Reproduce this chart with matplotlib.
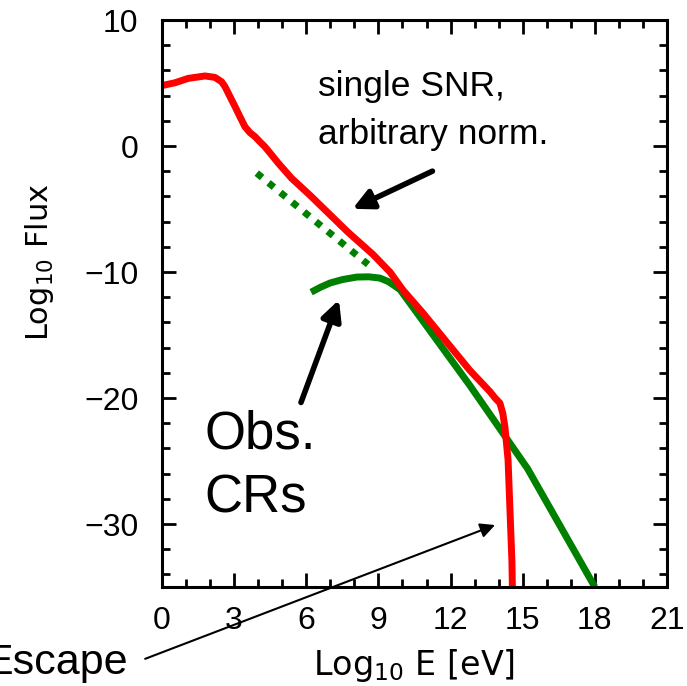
import matplotlib
matplotlib.use("Agg")
import matplotlib.pyplot as plt

# spectrum of a single SNR (red), log10 E vs log10 flux
snr_logE = [0.0, 0.54, 1.09, 1.79, 2.2, 2.48, 2.62, 2.83, 3.04, 3.24, 3.45, 3.66,
            3.87, 4.07, 4.28, 4.56, 4.84, 5.39, 6.15, 7.73, 8.77, 9.48, 10.02,
            10.85, 12.8, 13.64, 13.85, 14.05, 14.17, 14.26, 14.39, 14.47, 14.55,
            14.57]
snr_logF = [4.8, 5.02, 5.37, 5.56, 5.45, 5.1, 4.71, 3.91, 3.12, 2.33, 1.53, 1.06,
            0.74, 0.34, -0.06, -0.71, -1.37, -2.56, -3.9, -6.83, -8.6, -10.0,
            -11.43, -13.25, -17.8, -19.5, -20.0, -20.4, -21.2, -22.3, -24.9,
            -28.9, -32.9, -35.0]

# observed cosmic rays (green solid)
cr_logE = [6.2, 6.6, 6.99, 7.5, 8.1, 8.6, 9.06, 9.4, 9.6, 9.9, 12.8, 15.2, 18.0]
cr_logF = [-11.6, -11.2, -10.87, -10.6, -10.4, -10.38, -10.48, -10.75, -11.0,
           -11.4, -19.0, -25.6, -35.0]

# extrapolation (green dotted)
ext_logE = [3.94, 8.57]
ext_logF = [-2.15, -9.4]

xticks = [0, 3, 6, 9, 12, 15, 18, 21]
yticks = [10, 0, -10, -20, -30]

fig = plt.figure(figsize=(6.87, 6.86), dpi=100)
ax = fig.add_axes([0.2358, 0.1443, 0.7351, 0.8265])

ax.plot(ext_logE, ext_logF, color='#008000', lw=5, ls=(0, (1, 1.2)),
        dash_capstyle='butt')
ax.plot(cr_logE, cr_logF, color='#008000', lw=5, solid_capstyle='butt',
        solid_joinstyle='round')
ax.plot(snr_logE, snr_logF, color='#ff0000', lw=5, solid_capstyle='round',
        solid_joinstyle='round')

ax.set_xlim(0, 21)
ax.set_ylim(-35, 10)
ax.set_xticks(xticks)
ax.set_yticks(yticks)
ax.set_yticklabels(['10', '0', '\u221210', '\u221220', '\u221230'])
ax.set_xticks(range(0, 22), minor=True)
ax.set_yticks(range(-34, 11, 2), minor=True)

for s in ax.spines.values():
    s.set_linewidth(2.2)
ax.tick_params(which='both', direction='in', top=True, right=True, width=2.0)
ax.tick_params(which='major', length=10)
ax.tick_params(which='minor', length=6)
ax.tick_params(axis='x', which='major', pad=14)
ax.tick_params(axis='y', which='major', pad=17)
for lab in ax.get_xticklabels() + ax.get_yticklabels():
    lab.set_family('Liberation Sans')
    lab.set_fontsize(23)

ax.set_xlabel('Log$_{10}$ E [eV]', fontsize=24, family='DejaVu Sans')
ax.set_ylabel('Log$_{10}$ Flux', fontsize=22, family='DejaVu Sans')
ax.xaxis.set_label_coords(0.5, -0.105)
ax.yaxis.set_label_coords(-0.21, 0.573)

# annotations
ax.text(6.49, 3.95, 'single SNR,', fontsize=25.5, family='Liberation Sans')
ax.text(6.49, 0.2, 'arbitrary norm.', fontsize=25.5, family='Liberation Sans')
ax.annotate('', xy=(7.82, -5.08), xytext=(11.35, -1.9),
            arrowprops=dict(arrowstyle='-|>', color='black', lw=4,
                            mutation_scale=30))

ax.text(1.75, -23.97, 'Obs.', fontsize=38, family='Liberation Sans')
ax.text(1.75, -29.05, 'CRs', fontsize=38, family='Liberation Sans')
ax.annotate('', xy=(7.4, -12.0), xytext=(5.74, -20.56),
            arrowprops=dict(arrowstyle='-|>', color='black', lw=4,
                            mutation_scale=30))

ax.text(-1.4, -41.9, 'Escape', fontsize=31, family='Liberation Sans',
        ha='right', va='baseline', clip_on=False)
ax.annotate('', xy=(13.85, -30.08), xytext=(-0.7, -40.7),
            annotation_clip=False,
            arrowprops=dict(arrowstyle='-|>', color='black', lw=1.5,
                            mutation_scale=22, shrinkA=0, shrinkB=0))

fig.savefig('out.png', dpi=100)
